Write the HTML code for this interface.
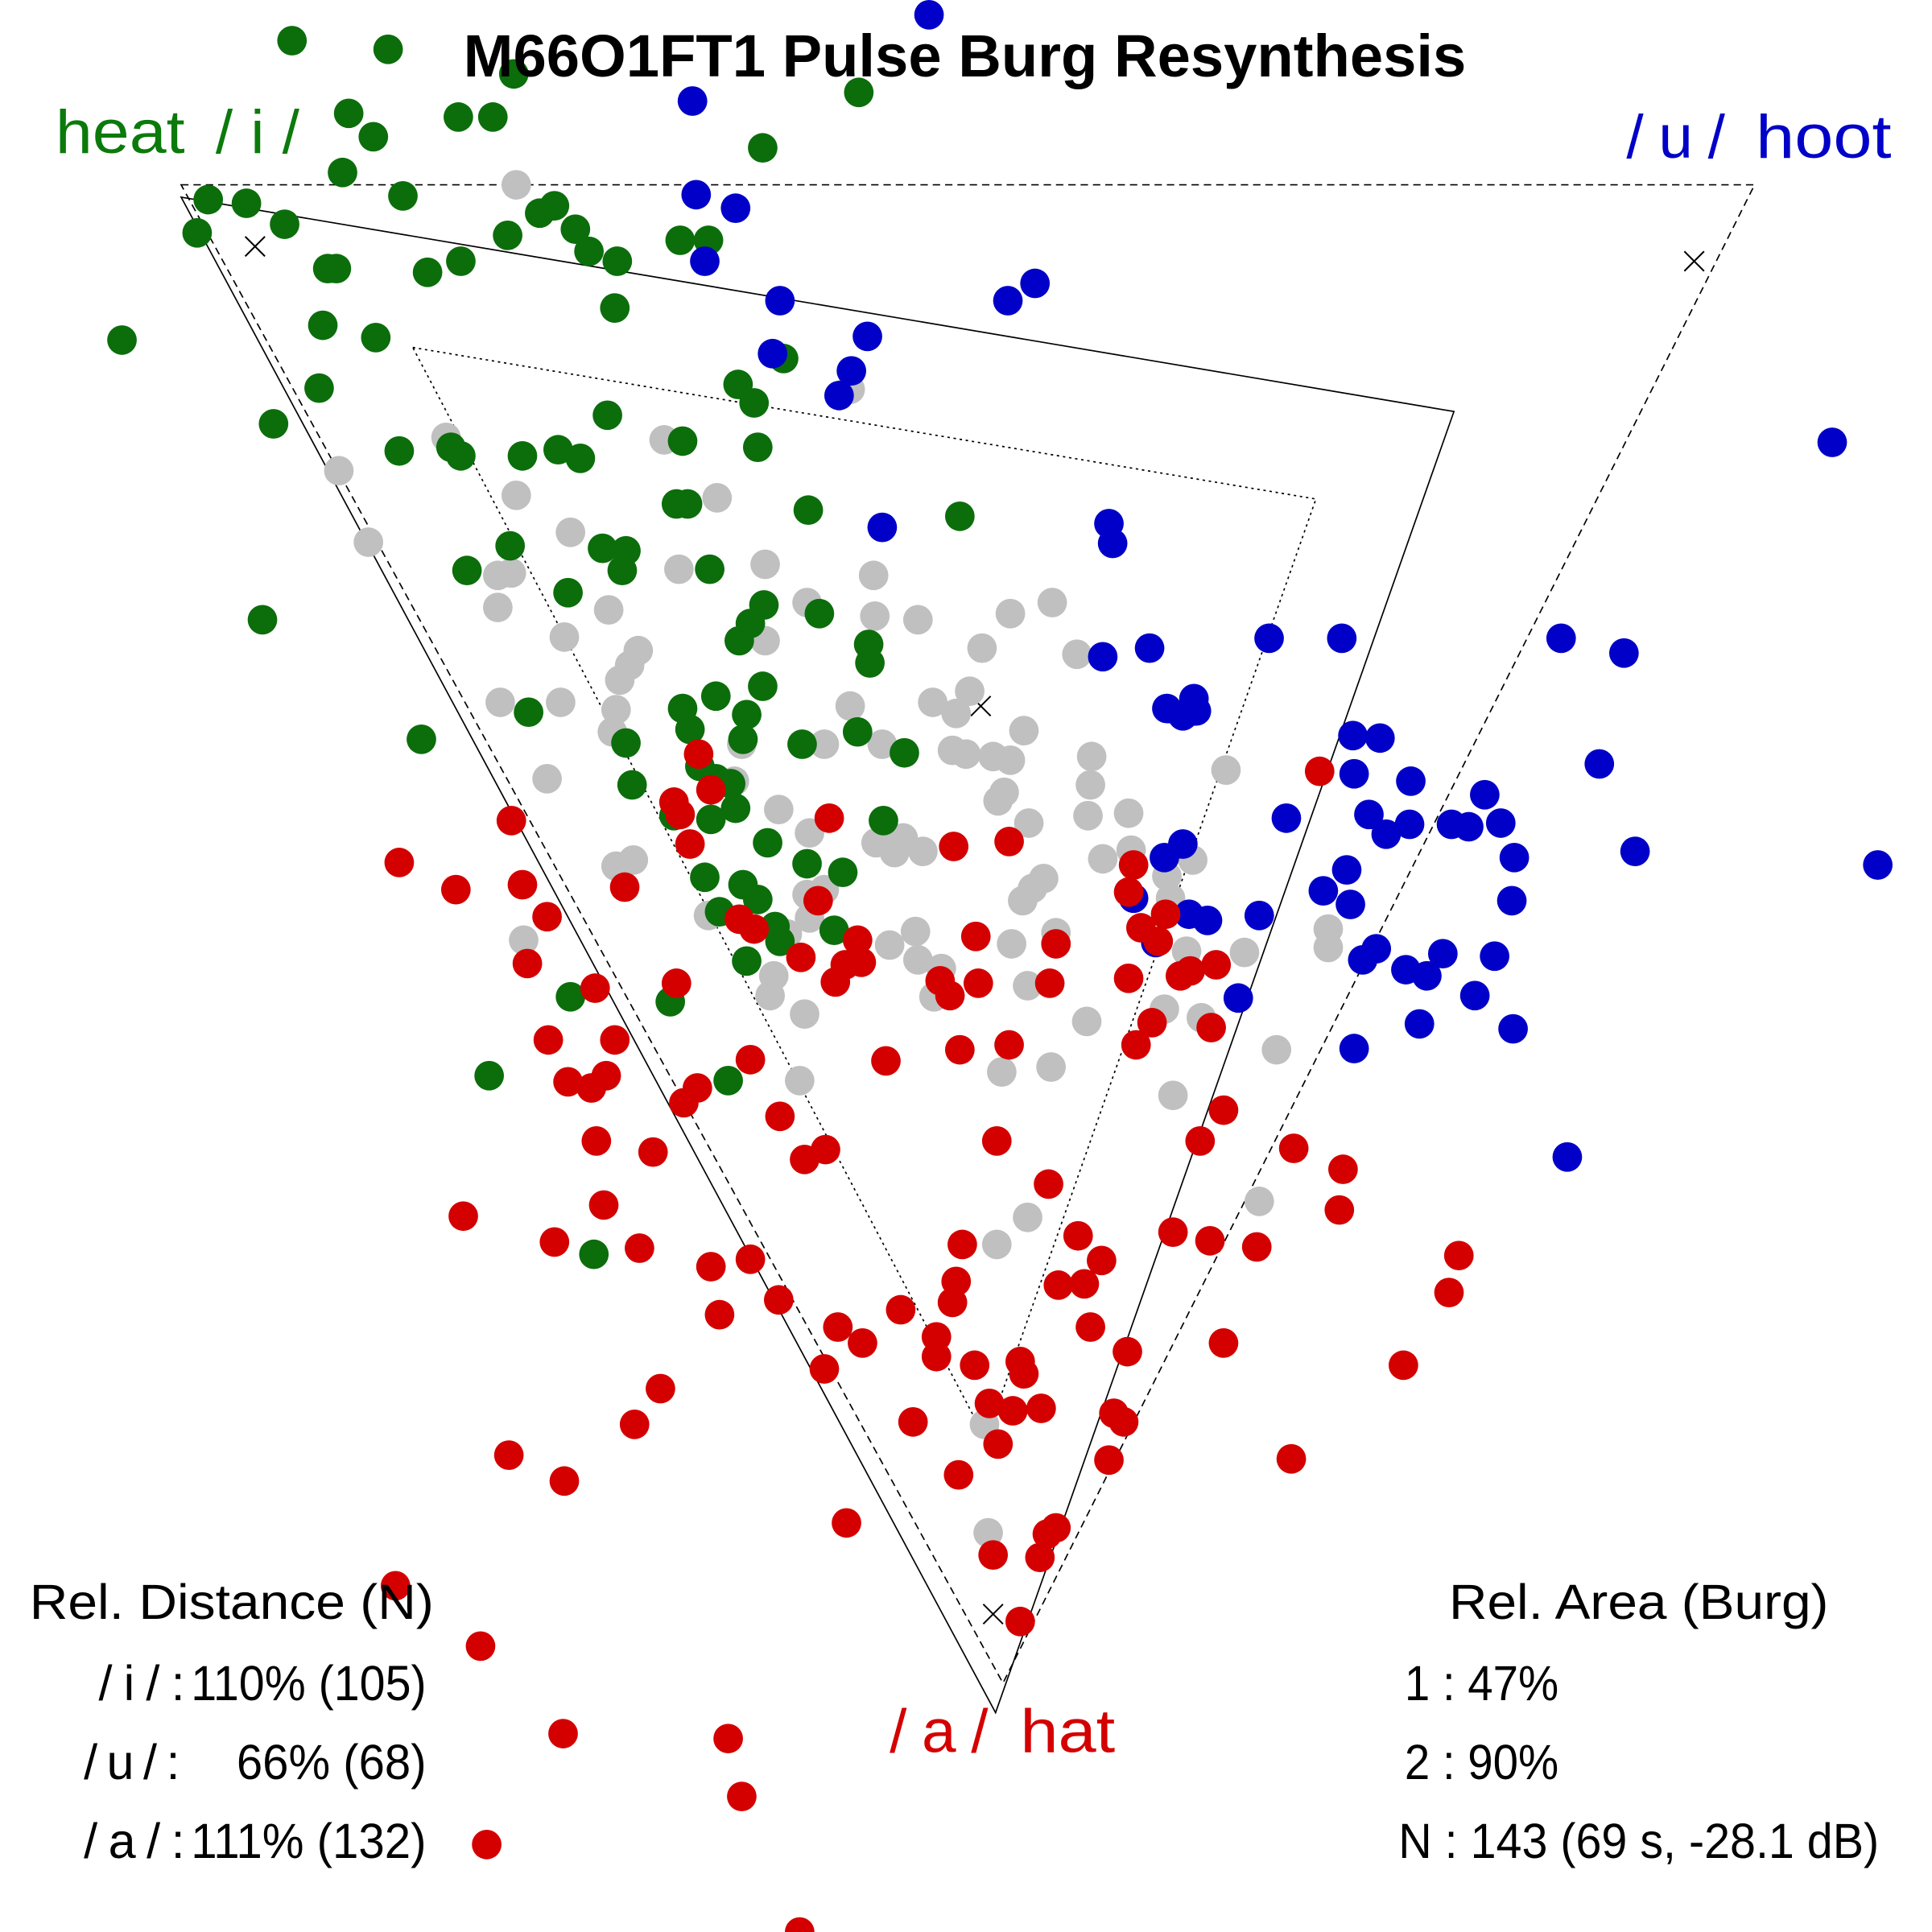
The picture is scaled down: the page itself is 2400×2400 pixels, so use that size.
<!DOCTYPE html>
<html><head><meta charset="utf-8"><style>
html,body{margin:0;padding:0;background:#fff}
svg{display:block}
text{font-family:"Liberation Sans",sans-serif}
</style></head><body>
<svg width="2400" height="2400" viewBox="0 0 1568 1568" xmlns="http://www.w3.org/2000/svg">
<rect width="1568" height="1568" fill="#fff"/>
<g fill="none" stroke="#000" stroke-width="1.1">
<polygon points="147,150 1424,150 814,1366" stroke-dasharray="6,4"/>
<polygon points="147,160 1180,334 808,1390"/>
<polygon points="335,282 1068,405 800,1168" stroke-dasharray="2,3"/>
<g stroke-width="1.3">
<path d="M199,192l16,16M215,192l-16,16"/>
<path d="M1367,204l16,16M1383,204l-16,16"/>
<path d="M788,565l16,16M804,565l-16,16"/>
<path d="M798,1302l16,16M814,1302l-16,16"/>
</g>
</g>
<g fill="none" stroke-width="24" stroke-linecap="round">
<path stroke="#c0c0c0" d="M419 150h0M690 316h0M362 355h0M539 357h0M275 382h0M419 402h0M582 404h0M299 440h0M463 432h0M404 467h0M415 465h0M551 462h0M621 458h0M709 467h0M404 493h0M494 495h0M655 489h0M710 500h0M745 503h0M621 520h0M458 517h0M518 528h0M797 526h0M820 498h0M854 489h0M874 531h0M503 552h0M511 540h0M406 570h0M455 570h0M500 576h0M690 573h0M757 570h0M787 561h0M776 579h0M831 593h0M497 594h0M602 604h0M669 604h0M716 604h0M773 609h0M784 612h0M806 614h0M820 617h0M886 614h0M995 625h0M444 632h0M596 634h0M885 637h0M815 643h0M810 650h0M883 662h0M916 660h0M835 668h0M632 657h0M657 676h0M711 684h0M733 680h0M749 691h0M726 692h0M895 697h0M918 690h0M968 698h0M500 703h0M514 698h0M847 713h0M838 721h0M830 731h0M947 711h0M950 729h0M575 743h0M655 726h0M669 722h0M657 745h0M639 758h0M743 756h0M722 767h0M745 779h0M764 786h0M758 809h0M821 766h0M857 757h0M1078 754h0M1078 769h0M1010 773h0M963 772h0M425 763h0M834 800h0M628 792h0M625 808h0M653 823h0M945 819h0M975 826h0M882 829h0M1036 852h0M853 866h0M813 870h0M649 877h0M952 889h0M1022 975h0M834 988h0M809 1010h0M799 1156h0M802 1244h0"/>
<path stroke="#0b6e0b" d="M237 33h0M315 40h0M417 60h0M697 75h0M283 92h0M372 95h0M400 95h0M303 111h0M619 120h0M278 140h0M327 159h0M169 162h0M200 165h0M231 182h0M160 189h0M438 173h0M450 167h0M467 186h0M412 191h0M478 204h0M501 212h0M552 195h0M575 195h0M374 212h0M347 221h0M266 218h0M273 218h0M499 250h0M262 264h0M305 274h0M99 276h0M636 291h0M259 315h0M599 312h0M612 327h0M493 337h0M222 344h0M324 366h0M366 363h0M374 370h0M424 370h0M453 365h0M471 372h0M554 358h0M615 363h0M549 409h0M558 409h0M656 414h0M779 419h0M414 443h0M489 445h0M508 447h0M505 463h0M379 463h0M576 462h0M461 481h0M620 491h0M609 506h0M600 520h0M665 498h0M213 503h0M705 523h0M706 538h0M619 557h0M581 565h0M554 575h0M606 580h0M429 578h0M560 592h0M603 600h0M651 604h0M696 594h0M734 611h0M342 600h0M508 603h0M568 622h0M581 632h0M593 636h0M513 637h0M597 656h0M547 662h0M577 665h0M717 666h0M623 684h0M655 701h0M684 708h0M572 712h0M603 718h0M615 730h0M584 740h0M629 752h0M677 755h0M633 764h0M606 780h0M463 809h0M544 813h0M397 873h0M591 877h0M482 1018h0"/>
<path stroke="#0000c8" d="M754 12h0M562 82h0M565 158h0M597 169h0M572 212h0M633 244h0M840 230h0M818 244h0M704 273h0M691 301h0M627 287h0M681 321h0M1487 359h0M716 428h0M900 425h0M903 441h0M895 533h0M933 526h0M1030 518h0M1089 518h0M1267 518h0M1318 530h0M947 575h0M960 581h0M969 567h0M971 577h0M1098 597h0M1120 599h0M1298 620h0M1099 628h0M1145 634h0M1205 645h0M1044 664h0M1111 661h0M1125 677h0M1144 669h0M1178 669h0M1192 671h0M1218 668h0M1229 696h0M1327 691h0M1524 702h0M945 696h0M960 685h0M920 729h0M1074 723h0M1093 706h0M1096 734h0M1227 731h0M965 742h0M980 747h0M1022 743h0M938 765h0M1117 770h0M1106 779h0M1141 787h0M1158 792h0M1171 774h0M1213 776h0M1005 810h0M1197 808h0M1152 831h0M1228 835h0M1099 851h0M1272 939h0"/>
<path stroke="#d40000" d="M1071 626h0M415 666h0M324 700h0M370 722h0M424 718h0M444 744h0M507 720h0M567 612h0M547 651h0M552 661h0M560 685h0M577 641h0M673 664h0M664 731h0M774 687h0M819 683h0M920 702h0M916 724h0M926 753h0M946 742h0M940 764h0M792 760h0M857 766h0M696 763h0M650 777h0M686 783h0M699 781h0M678 797h0M600 746h0M612 754h0M549 798h0M483 802h0M428 782h0M763 796h0M771 808h0M794 798h0M852 798h0M916 794h0M958 792h0M966 788h0M987 783h0M983 834h0M935 830h0M922 848h0M819 848h0M779 852h0M719 861h0M609 860h0M499 844h0M445 844h0M461 878h0M480 883h0M492 873h0M566 883h0M555 895h0M633 906h0M484 926h0M530 935h0M653 941h0M670 933h0M809 926h0M851 961h0M993 901h0M974 926h0M1050 932h0M1090 949h0M1087 982h0M376 987h0M490 978h0M450 1008h0M519 1013h0M577 1028h0M609 1022h0M781 1010h0M875 1003h0M952 1000h0M982 1007h0M1020 1012h0M1184 1019h0M894 1023h0M776 1040h0M773 1057h0M859 1043h0M880 1042h0M1176 1049h0M632 1055h0M584 1067h0M731 1063h0M680 1077h0M700 1090h0M760 1085h0M760 1101h0M885 1077h0M993 1090h0M915 1097h0M828 1105h0M831 1115h0M791 1108h0M669 1111h0M1139 1108h0M536 1127h0M803 1139h0M822 1145h0M845 1143h0M741 1154h0M904 1147h0M912 1154h0M515 1156h0M810 1172h0M413 1181h0M900 1185h0M1048 1184h0M458 1202h0M778 1197h0M687 1236h0M850 1245h0M857 1240h0M844 1264h0M806 1262h0M828 1316h0M321 1287h0M390 1336h0M457 1407h0M591 1411h0M602 1458h0M395 1497h0M649 1568h0"/>
</g>
<text x="783" y="62" text-anchor="middle" font-size="48.5" font-weight="bold">M66O1FT1 Pulse Burg Resynthesis</text>
<g font-size="50">
<text x="45" y="124" fill="#0b7a0b" textLength="105" lengthAdjust="spacingAndGlyphs">heat</text>
<text x="175" y="124" fill="#0b7a0b" textLength="68" lengthAdjust="spacing">/i/</text>
<text x="1320" y="128" fill="#0000c8" textLength="80" lengthAdjust="spacing">/u/</text>
<text x="1425" y="128" fill="#0000c8" textLength="110" lengthAdjust="spacingAndGlyphs">hoot</text>
<text x="722" y="1422" fill="#d40000" textLength="80" lengthAdjust="spacing">/a/</text>
<text x="828" y="1422" fill="#d40000" textLength="77" lengthAdjust="spacingAndGlyphs">hat</text>
</g>
<g font-size="40">
<text x="24" y="1314" textLength="328" lengthAdjust="spacingAndGlyphs">Rel. Distance (N)</text>
<text x="80" y="1380" textLength="70" lengthAdjust="spacing">/i/:</text>
<text x="68" y="1444" textLength="78" lengthAdjust="spacing">/u/:</text>
<text x="68" y="1508" textLength="82" lengthAdjust="spacing">/a/:</text>
<text x="155" y="1380" textLength="191" lengthAdjust="spacingAndGlyphs">110% (105)</text>
<text x="192" y="1444" textLength="154" lengthAdjust="spacingAndGlyphs">66% (68)</text>
<text x="155" y="1508" textLength="191" lengthAdjust="spacingAndGlyphs">111% (132)</text>
<text x="1176" y="1314" textLength="308" lengthAdjust="spacingAndGlyphs">Rel. Area (Burg)</text>
<text x="1140" y="1380" textLength="125" lengthAdjust="spacingAndGlyphs">1 : 47%</text>
<text x="1140" y="1444" textLength="125" lengthAdjust="spacingAndGlyphs">2 : 90%</text>
<text x="1135" y="1508" textLength="390" lengthAdjust="spacingAndGlyphs">N : 143 (69 s, -28.1 dB)</text>
</g>
</svg>
</body></html>
